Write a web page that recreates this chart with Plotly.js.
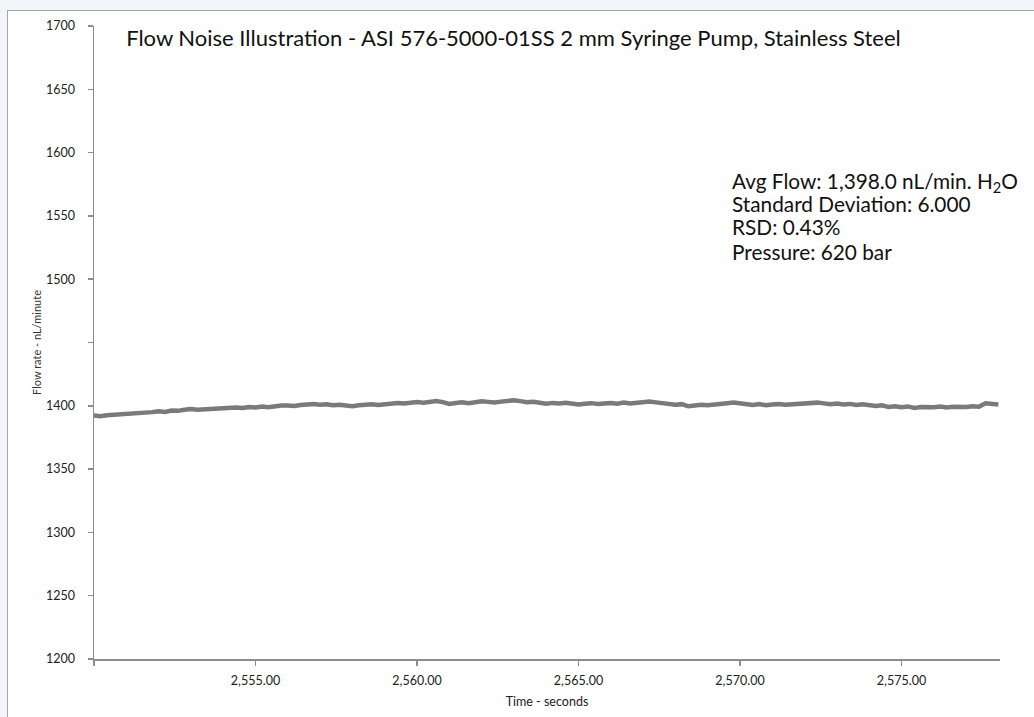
<!DOCTYPE html>
<html>
<head>
<meta charset="utf-8">
<script src="https://cdn.plot.ly/plotly-3.0.1.min.js"></script>
<style>
  html, body { margin: 0; padding: 0; background: #f2f5fa; width: 1034px; height: 717px; overflow: hidden; }
  #frame { position: absolute; left: 7px; top: 10px; width: 1030px; height: 710px; background: #ffffff; border-left: 1px solid #a6a6a6; border-top: 1px solid #a6a6a6; }
  #chart { position: absolute; left: 0px; top: 0px; width: 1026px; height: 706px; }
</style>
</head>
<body>
<div id="frame"><div id="chart"></div></div>
<script>
// Time axis: samples every 0.2 s from 2550.0 to 2578.0
const tStart = 2550.0;
const tStep = 0.2;
// Flow values (nL/min)
const flowValues = [
  1392.3, 1391.8, 1392.6, 1392.9, 1393.6, 1393.2, 1394.1, 1394.5, 1394.0, 1395.0,
  1395.6, 1395.2, 1396.3, 1396.0, 1396.8, 1397.4, 1396.9, 1397.2, 1397.9, 1397.5,
  1398.5, 1398.1, 1398.7, 1398.2, 1399.0, 1398.6, 1399.4, 1398.9, 1399.7, 1400.2,
  1400.3, 1399.8, 1400.6, 1401.0, 1401.4, 1400.8, 1401.2, 1400.5, 1400.9, 1400.2,
  1399.6, 1400.4, 1400.9, 1401.3, 1400.7, 1401.4, 1401.9, 1402.3, 1401.8, 1402.6,
  1403.0, 1402.4, 1403.5, 1403.8, 1402.9, 1401.4, 1402.2, 1402.8, 1402.1, 1403.0,
  1403.6, 1403.1, 1402.7, 1403.3, 1404.0, 1404.4, 1403.7, 1402.9, 1403.2, 1402.5,
  1401.7, 1402.3, 1401.8, 1402.4, 1401.6, 1401.0, 1401.7, 1402.1, 1401.5, 1402.2,
  1402.2, 1401.6, 1402.5, 1401.9, 1402.4, 1403.6, 1403.3, 1402.7, 1402.0, 1401.4,
  1400.8, 1401.3, 1399.6, 1400.2, 1400.9, 1400.4, 1401.2, 1401.6, 1402.0, 1402.5,
  1401.8, 1401.3, 1400.7, 1401.4, 1400.4, 1401.0, 1401.5, 1400.9, 1401.1, 1401.7,
  1402.2, 1401.6, 1402.5, 1401.9, 1401.3, 1401.8, 1401.0, 1401.5, 1400.6, 1401.2,
  1400.3, 1399.8, 1400.4, 1399.0, 1399.6, 1398.9, 1399.5, 1398.3, 1399.1, 1398.6,
  1398.8, 1399.5, 1398.7, 1399.3, 1398.9, 1399.0, 1399.6, 1399.2, 1402.0, 1401.4,
  1401.0
];
const timeValues = flowValues.map((_, i) => +(tStart + i * tStep).toFixed(1));

// Labelled ticks (the 1450 and 2550 labels are unreadable in the reference: tick marks only)
const yTickVals = [1200, 1250, 1300, 1350, 1400, 1500, 1550, 1600, 1650, 1700];
const yTickText = ['1200', '1250', '1300', '1350', '1400', '1500', '1550', '1600', '1650', '1700'];
const yMarkOnly = [1450];
const xTickVals = [2555, 2560, 2565, 2570, 2575];
const xTickText = ['2,555.00', '2,560.00', '2,565.00', '2,570.00', '2,575.00'];
const xMarkOnly = [2550];

const titleText = 'Flow Noise Illustration - ASI 576-5000-01SS 2 mm Syringe Pump, Stainless Steel';
const statsLines = [
  'Avg Flow: 1,398.0 nL/min. H<sub>2</sub>O',
  'Standard Deviation: 6.000',
  'RSD: 0.43%',
  'Pressure: 620 bar'
];
const xTitle = 'Time - seconds';
const yTitle = 'Flow rate - nL/minute';

const FONT = 'Lato, "Open Sans", sans-serif';

const trace = {
  x: timeValues,
  y: flowValues,
  type: 'scatter',
  mode: 'lines',
  line: { color: '#7a7a7a', width: 4.5 },
  hoverinfo: 'x+y'
};

const annotations = [];
const lineYs = [0.7535, 0.7188, 0.6825, 0.6445];
statsLines.forEach((s, i) => {
  annotations.push({
    text: s, xref: 'paper', yref: 'paper', x: 0.7025, y: lineYs[i],
    xanchor: 'left', yanchor: 'middle', showarrow: false, align: 'left',
    font: { family: FONT, size: 20.8, color: '#111111' }
  });
});

const layout = {
  width: 1026, height: 706,
  margin: { l: 86, r: 34, t: 15, b: 58, pad: 0 },
  paper_bgcolor: '#ffffff', plot_bgcolor: '#ffffff',
  showlegend: false,
  font: { family: FONT, size: 12, color: '#222222' },
  title: {
    text: titleText, xref: 'paper', yref: 'container', x: 0.0355, y: 0.9618,
    xanchor: 'left', yanchor: 'middle', automargin: false,
    font: { family: FONT, size: 22, color: '#111111' }
  },
  xaxis: {
    range: [2550, 2578.05],
    tickvals: xTickVals, ticktext: xTickText,
    ticks: 'outside', ticklen: 5, tickwidth: 1.5, tickcolor: '#8c8c8c',
    minor: { tickvals: xMarkOnly, ticks: 'outside', ticklen: 5, tickwidth: 1.5, tickcolor: '#8c8c8c', showgrid: false },
    showline: true, linecolor: '#8c8c8c', linewidth: 1.5,
    showgrid: false, zeroline: false,
    tickfont: { family: FONT, size: 12.5, color: '#222222' },
    ticklabelstandoff: 4,
    title: { text: xTitle, font: { family: FONT, size: 12.5, color: '#222222' }, standoff: 10 }
  },
  yaxis: {
    range: [1200, 1700],
    tickvals: yTickVals, ticktext: yTickText,
    ticks: 'outside', ticklen: 5, tickwidth: 1.5, tickcolor: '#8c8c8c',
    minor: { tickvals: yMarkOnly, ticks: 'outside', ticklen: 5, tickwidth: 1.5, tickcolor: '#8c8c8c', showgrid: false },
    showline: true, linecolor: '#8c8c8c', linewidth: 1.5,
    showgrid: false, zeroline: false,
    tickfont: { family: FONT, size: 12.5, color: '#222222' },
    ticklabelstandoff: 10,
    title: { text: yTitle, font: { family: FONT, size: 11, color: '#333333' }, standoff: 2 }
  },
  annotations: annotations
};

Plotly.newPlot('chart', [trace], layout, { displayModeBar: false, staticPlot: true });
</script>
</body>
</html>
